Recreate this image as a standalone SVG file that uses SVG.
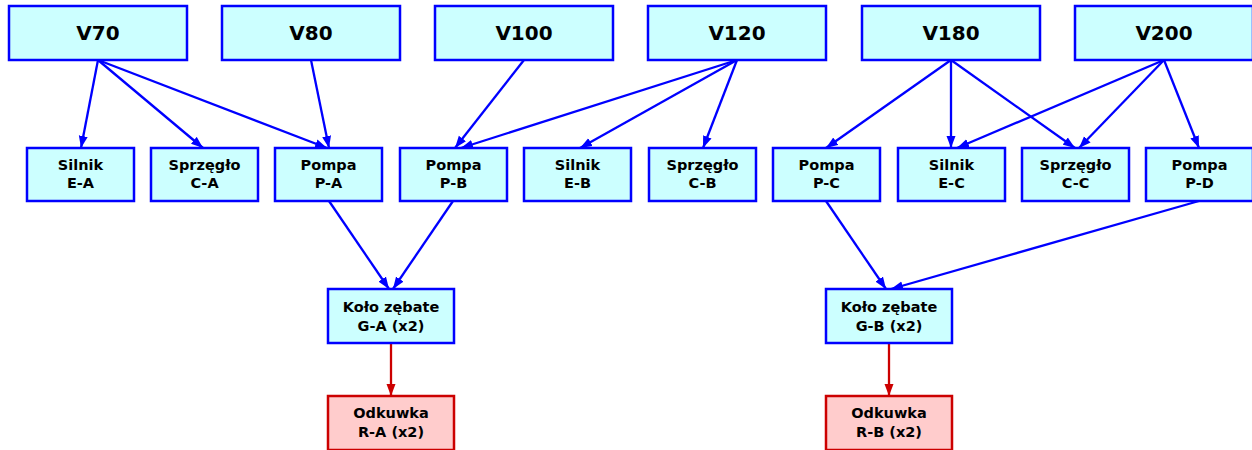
<svg xmlns="http://www.w3.org/2000/svg" width="1252" height="450" viewBox="0 0 1252 450">
<defs>
<style>
.n rect{fill:#ccffff;stroke:#0000ff;stroke-width:2.5}
.r rect{fill:#ffcccc;stroke:#cc0000;stroke-width:2.5}
text{font-family:"DejaVu Sans",Verdana,sans-serif;font-weight:bold;fill:#000;text-anchor:middle}
.t text{font-size:20px}
.s text{font-size:14.5px}
.e{stroke:#0000ff;stroke-width:2.3;fill:none;marker-end:url(#ab)}
.er{stroke:#cc0000;stroke-width:2.3;fill:none;marker-end:url(#ar)}
</style>
<marker id="ab" viewBox="0 0 12 10" refX="12" refY="5" markerWidth="12" markerHeight="10" markerUnits="userSpaceOnUse" orient="auto"><path d="M0,0.5 L12,5 L0,9.5 Z" fill="#0000ff"/></marker>
<marker id="ar" viewBox="0 0 12 10" refX="12" refY="5" markerWidth="12" markerHeight="10" markerUnits="userSpaceOnUse" orient="auto"><path d="M0,0.5 L12,5 L0,9.5 Z" fill="#cc0000"/></marker>
</defs>
<rect width="1252" height="450" fill="#ffffff"/>
<g id="edges">
<line class="e" x1="98" y1="60" x2="81" y2="148"/>
<line class="e" x1="98" y1="60" x2="203" y2="148"/>
<line class="e" x1="98" y1="60" x2="327" y2="148"/>
<line class="e" x1="311" y1="60" x2="329" y2="148"/>
<line class="e" x1="524" y1="60" x2="455" y2="148"/>
<line class="e" x1="737" y1="60" x2="461" y2="148"/>
<line class="e" x1="737" y1="60" x2="580" y2="148"/>
<line class="e" x1="737" y1="60" x2="703" y2="148"/>
<line class="e" x1="951" y1="60" x2="826" y2="148"/>
<line class="e" x1="951" y1="60" x2="951" y2="148"/>
<line class="e" x1="951" y1="60" x2="1075" y2="148"/>
<line class="e" x1="1164" y1="60" x2="957" y2="148"/>
<line class="e" x1="1164" y1="60" x2="1079" y2="148"/>
<line class="e" x1="1164" y1="60" x2="1199" y2="148"/>
<line class="e" x1="329" y1="201" x2="389" y2="289"/>
<line class="e" x1="453" y1="201" x2="393" y2="289"/>
<line class="e" x1="826" y1="201" x2="886" y2="289"/>
<line class="e" x1="1199" y1="201" x2="891" y2="289"/>
<line class="er" x1="391" y1="343" x2="391" y2="396"/>
<line class="er" x1="889" y1="343" x2="889" y2="396"/>
</g>
<g id="V70" class="n t"><rect x="9" y="6" width="178" height="54"/><text x="98" y="40">V70</text></g>
<g id="V80" class="n t"><rect x="222" y="6" width="178" height="54"/><text x="311" y="40">V80</text></g>
<g id="V100" class="n t"><rect x="435" y="6" width="178" height="54"/><text x="524" y="40">V100</text></g>
<g id="V120" class="n t"><rect x="648" y="6" width="178" height="54"/><text x="737" y="40">V120</text></g>
<g id="V180" class="n t"><rect x="862" y="6" width="178" height="54"/><text x="951" y="40">V180</text></g>
<g id="V200" class="n t"><rect x="1075" y="6" width="178" height="54"/><text x="1164" y="40">V200</text></g>
<g id="EA" class="n s"><rect x="27" y="148" width="107" height="53"/><text x="80.5" y="170">Silnik</text><text x="80.5" y="188">E-A</text></g>
<g id="CA" class="n s"><rect x="151" y="148" width="107" height="53"/><text x="204.5" y="170">Sprzęgło</text><text x="204.5" y="188">C-A</text></g>
<g id="PA" class="n s"><rect x="275" y="148" width="107" height="53"/><text x="328.5" y="170">Pompa</text><text x="328.5" y="188">P-A</text></g>
<g id="PB" class="n s"><rect x="400" y="148" width="107" height="53"/><text x="453.5" y="170">Pompa</text><text x="453.5" y="188">P-B</text></g>
<g id="EB" class="n s"><rect x="524" y="148" width="107" height="53"/><text x="577.5" y="170">Silnik</text><text x="577.5" y="188">E-B</text></g>
<g id="CB" class="n s"><rect x="649" y="148" width="107" height="53"/><text x="702.5" y="170">Sprzęgło</text><text x="702.5" y="188">C-B</text></g>
<g id="PC" class="n s"><rect x="773" y="148" width="107" height="53"/><text x="826.5" y="170">Pompa</text><text x="826.5" y="188">P-C</text></g>
<g id="EC" class="n s"><rect x="898" y="148" width="107" height="53"/><text x="951.5" y="170">Silnik</text><text x="951.5" y="188">E-C</text></g>
<g id="CC" class="n s"><rect x="1022" y="148" width="107" height="53"/><text x="1075.5" y="170">Sprzęgło</text><text x="1075.5" y="188">C-C</text></g>
<g id="PD" class="n s"><rect x="1146" y="148" width="107" height="53"/><text x="1199.5" y="170">Pompa</text><text x="1199.5" y="188">P-D</text></g>
<g id="GA" class="n s"><rect x="328" y="289" width="126" height="54"/><text x="391" y="311.5">Koło zębate</text><text x="391" y="330.5">G-A (x2)</text></g>
<g id="GB" class="n s"><rect x="826" y="289" width="126" height="54"/><text x="889" y="311.5">Koło zębate</text><text x="889" y="330.5">G-B (x2)</text></g>
<g id="RA" class="r s"><rect x="328" y="396" width="126" height="54"/><text x="391" y="418">Odkuwka</text><text x="391" y="437">R-A (x2)</text></g>
<g id="RB" class="r s"><rect x="826" y="396" width="126" height="54"/><text x="889" y="418">Odkuwka</text><text x="889" y="437">R-B (x2)</text></g>
</svg>
